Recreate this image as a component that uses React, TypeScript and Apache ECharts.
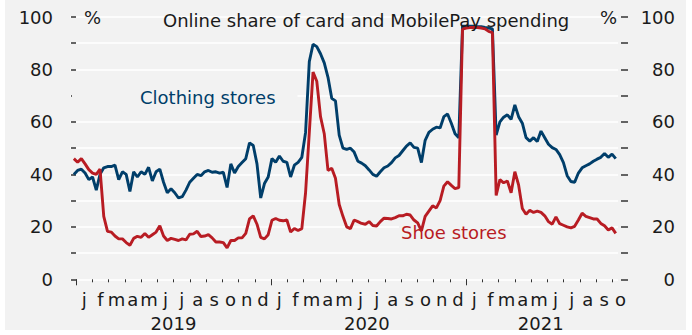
import React, { useEffect, useRef } from "react";
import * as echarts from "echarts";

// Weekly observations: first week starts 4 days before 1 Jan 2019
const firstWeekDay = -4;
const daysPerWeek = 7;
const daysPerMonth = 30.4375;

const clothingStores = [
  40, 41.5, 42, 40.5, 38, 39, 34, 40, 42.5, 43,
  43, 43.5, 38, 41, 40, 33.5, 41, 39, 41, 40,
  42.7, 37.5, 41, 42, 37, 33, 34.5, 33, 31, 31.5,
  34, 37, 38.5, 40, 39.5, 41, 41.5, 40.8, 41, 40.5,
  40.8, 35, 44, 40.5, 43, 44.5, 46, 52, 51, 44,
  31, 36.5, 39, 46, 44.6, 47, 45, 44.6, 39, 43.5,
  44.6, 46.5, 56, 83, 89.6, 88.7, 86, 82.5, 77, 69,
  68, 55, 50, 49.5, 50, 48.5, 45, 44.3, 43.3, 41.7,
  40, 39.3, 41, 42.5, 43.2, 44.5, 46.3, 47.2, 49, 50.8,
  52, 50.3, 50, 44.5, 53, 56, 57.2, 58, 57.7, 62,
  63, 59.5, 55.5, 54, 96.5, 96.5, 96.5, 96.5, 96.3, 96.3,
  96, 95.8, 95.5, 55, 60, 61.8, 62.7, 61, 66.5, 62,
  59.5, 54, 52.7, 54, 52.5, 56.5, 54, 51.5, 50.2, 49.5,
  47.5, 44.5, 39.5, 37.3, 37, 40.5, 42.5, 43.3, 44, 45,
  45.8, 46.5, 48, 46.5, 47.7, 46,
];

const shoeStores = [
  46, 44.6, 46, 44, 41.8, 40.5, 40, 42, 24, 18.3,
  18, 16.5, 15.4, 15.4, 14, 13, 15.6, 16.4, 16, 17.5,
  16, 17, 18, 20.4, 16.5, 14.8, 15.6, 15.2, 14.8, 15.4,
  15, 17.2, 17.3, 18.3, 16.3, 16.5, 17, 15.8, 14.2, 14.2,
  14, 12, 14.8, 14.8, 15.8, 15.8, 17.5, 23, 24.2, 21,
  16, 15.4, 17, 22.5, 23.2, 22.5, 22.3, 22.6, 18, 19.4,
  18.6, 19.3, 33, 56, 79, 75.5, 62, 55.5, 41.5, 42.3,
  38.5, 28.5, 24, 20, 19.3, 22.6, 22, 21.3, 21, 22,
  20.5, 20.3, 22, 23.3, 23.2, 23, 23.5, 24.2, 24.2, 24.8,
  24.5, 22.6, 21.5, 18.5, 24, 26, 28, 27.2, 30, 35.5,
  37.2, 35.8, 34.6, 35, 95.4, 95.8, 96, 96, 96, 95.8,
  95.5, 94.5, 94, 32, 38, 36.8, 37.5, 33, 41, 36,
  27, 24.8, 26.3, 25.5, 26, 25.5, 24.2, 22, 21, 23.8,
  21.2, 20.6, 20, 19.6, 20.2, 22.6, 25.2, 24, 23.5, 23,
  23, 21.3, 20.4, 18.8, 19.6, 17.5,
];

const monthLetters = ["j", "f", "m", "a", "m", "j", "j", "a", "s", "o", "n", "d"];
const yearLabels = ["2019", "2020", "2021"];
const yearLabelPos = [60, 179, 286]; // tenths of a month from Jan 2019
const yTicks = [0, 20, 40, 60, 80, 100];

const BLUE = "#003e6a";
const RED = "#b81c23";
const BG = "#f2f2f2";
const FONT = "DejaVu Sans";
const TXT = "#1a1a1a";

export default function App() {
  const ref = useRef<HTMLDivElement>(null);

  useEffect(() => {
    if (!ref.current) return;
    const chart = echarts.init(ref.current, null, { renderer: "svg" });

    const toPoint = (v: number, i: number) => [
      (firstWeekDay + daysPerWeek * i) / daysPerMonth,
      v,
    ];

    const top = 17;
    const bottom = 55.7;
    const hiddenY = (gridIndex: number) => ({
      gridIndex,
      type: "value",
      min: 0,
      max: 100,
      show: false,
    });

    const option: any = {
      animation: false,
      backgroundColor: "transparent",
      title: {
        text: "Online share of card and MobilePay spending",
        left: 163,
        top: 11.5,
        padding: 0,
        textStyle: { fontFamily: FONT, fontSize: 18, fontWeight: "normal", color: TXT },
      },
      grid: [
        { left: 70, right: 74, top, bottom, outerBoundsMode: "none" },
        { left: 76, right: 79.75, top, bottom, outerBoundsMode: "none" },
        { left: 76, right: 226, top, bottom, outerBoundsMode: "none" },
        { left: 76, right: 63.5, top, bottom, outerBoundsMode: "none" },
        { left: 76, right: 63.5, top, bottom, outerBoundsMode: "none" },
      ],
      xAxis: [
        {
          gridIndex: 0,
          type: "value",
          min: -0.369,
          max: 33.354,
          axisLine: { show: false },
          axisTick: { show: false },
          axisLabel: { show: false },
          splitLine: { show: false },
        },
        {
          gridIndex: 1,
          type: "value",
          min: 0,
          max: 33,
          interval: 1,
          axisLine: { show: false },
          axisTick: { show: true, length: 3, lineStyle: { color: "#333", width: 1 } },
          axisLabel: { show: false },
          splitLine: { show: false },
        },
        {
          gridIndex: 2,
          type: "value",
          min: 0,
          max: 24,
          interval: 12,
          axisLine: { show: false },
          axisTick: { show: true, length: 6, lineStyle: { color: "#333", width: 1 } },
          axisLabel: { show: false },
          splitLine: { show: false },
        },
        {
          gridIndex: 3,
          type: "value",
          min: 0,
          max: 34,
          interval: 0.5,
          axisLine: { show: false },
          axisTick: { show: false },
          splitLine: { show: false },
          axisLabel: {
            show: true,
            margin: 11,
            fontFamily: FONT,
            fontSize: 18,
            color: TXT,
            showMinLabel: true,
            showMaxLabel: true,
            formatter: (v: number) => {
              const h = Math.round(v * 2);
              if (h % 2 !== 1) return "";
              return monthLetters[Math.floor(h / 2) % 12];
            },
          },
        },
        {
          gridIndex: 4,
          type: "value",
          min: 0,
          max: 34,
          interval: 0.1,
          axisLine: { show: false },
          axisTick: { show: false },
          splitLine: { show: false },
          axisLabel: {
            show: true,
            margin: 35,
            fontFamily: FONT,
            fontSize: 18,
            color: TXT,
            formatter: (v: number) => {
              const k = yearLabelPos.indexOf(Math.round(v * 10));
              return k >= 0 ? yearLabels[k] : "";
            },
          },
        },
      ],
      yAxis: [
        {
          gridIndex: 0,
          type: "value",
          position: "left",
          min: 0,
          max: 100,
          interval: 10,
          name: "%",
          nameLocation: "end",
          nameGap: 0,
          nameTextStyle: {
            fontFamily: FONT,
            fontSize: 18,
            color: TXT,
            align: "left",
            verticalAlign: "middle",
            padding: [3, 0, 0, 8],
          },
          axisLine: { show: false },
          axisTick: { show: true, length: 5, lineStyle: { color: "#333", width: 1.5 } },
          splitLine: { show: true, lineStyle: { color: "#ffffff", width: 1.5 } },
          axisLabel: {
            margin: 17,
            fontFamily: FONT,
            fontSize: 18,
            color: TXT,
            padding: [3, 0, 0, 0],
            formatter: (v: number) => (yTicks.indexOf(v) >= 0 ? String(v) : ""),
          },
        },
        {
          gridIndex: 0,
          type: "value",
          position: "right",
          offset: 3,
          min: 0,
          max: 100,
          interval: 10,
          name: "%",
          nameLocation: "end",
          nameGap: 0,
          nameTextStyle: {
            fontFamily: FONT,
            fontSize: 18,
            color: TXT,
            align: "right",
            verticalAlign: "middle",
            padding: [3, 4, 0, 0],
          },
          axisLine: { show: false },
          axisTick: { show: true, length: 7, lineStyle: { color: "#333", width: 1.5 } },
          splitLine: { show: false },
          axisLabel: {
            margin: 54,
            align: "right",
            fontFamily: FONT,
            fontSize: 18,
            color: TXT,
            padding: [3, 0, 0, 0],
            formatter: (v: number) => (yTicks.indexOf(v) >= 0 ? String(v) : ""),
          },
        },
        hiddenY(1),
        hiddenY(2),
        hiddenY(3),
        hiddenY(4),
      ],
      series: [
        {
          name: "Clothing stores",
          type: "line",
          xAxisIndex: 0,
          yAxisIndex: 0,
          data: clothingStores.map(toPoint),
          showSymbol: false,
          symbol: "none",
          lineStyle: { color: BLUE, width: 2.9 },
          itemStyle: { color: BLUE },
          z: 3,
        },
        {
          name: "Shoe stores",
          type: "line",
          xAxisIndex: 0,
          yAxisIndex: 0,
          data: shoeStores.map(toPoint),
          showSymbol: false,
          symbol: "none",
          lineStyle: { color: RED, width: 2.9 },
          itemStyle: { color: RED },
          z: 4,
        },
      ],
      graphic: [
        {
          type: "text",
          z: 1,
          style: {
            x: 72,
            y: 97,
            text: "Clothing stores",
            fill: BLUE,
            font: `18px ${FONT}`,
            verticalAlign: "middle",
            backgroundColor: BG,
            padding: [3, 22, 3, 68],
          },
        },
        {
          type: "text",
          z: 1,
          style: {
            x: 399,
            y: 232,
            text: "Shoe stores",
            fill: RED,
            font: `18px ${FONT}`,
            verticalAlign: "middle",
            backgroundColor: BG,
            padding: [2, 2, 2, 2],
          },
        },
      ],
    };

    chart.setOption(option);
    return () => chart.dispose();
  }, []);

  return (
    <div style={{ position: "fixed", left: 0, top: 0, width: 692, height: 335, background: "#ffffff" }}>
      <div style={{ position: "absolute", left: 5, top: 0, width: 681, height: 330, background: BG }} />
      <div ref={ref} style={{ position: "absolute", left: 0, top: 0, width: 692, height: 335 }} />
    </div>
  );
}
